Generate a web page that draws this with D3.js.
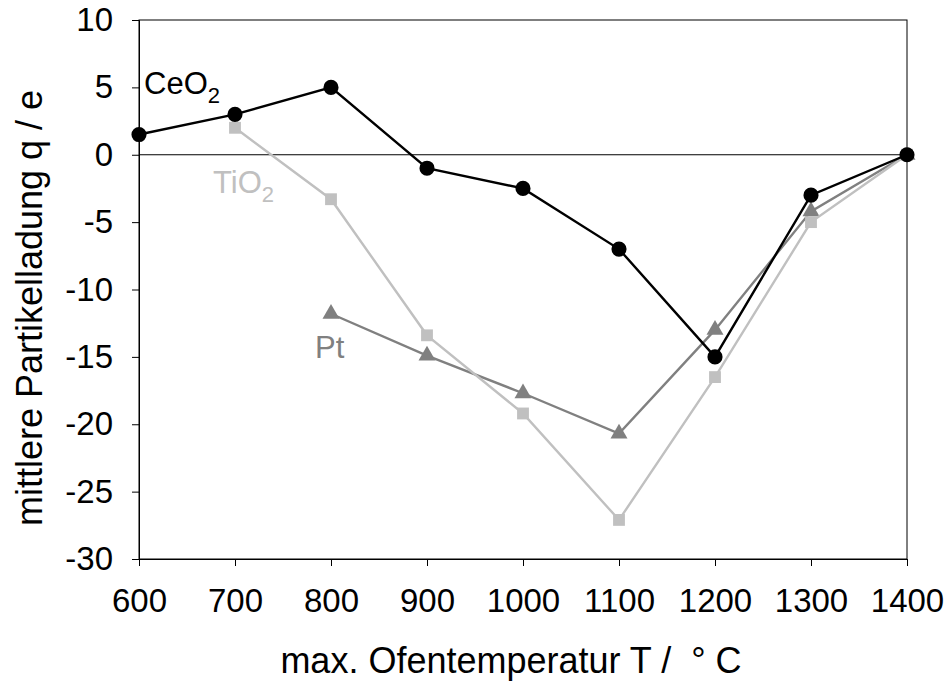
<!DOCTYPE html>
<html>
<head>
<meta charset="utf-8">
<script src="https://cdn.jsdelivr.net/npm/d3@7"></script>
<style>
  body { margin: 0; background: #fff; }
  svg text { font-family: "Liberation Sans", Arial, sans-serif; }
</style>
</head>
<body>
<div id="chart"></div>
<script>
const temps = [600, 700, 800, 900, 1000, 1100, 1200, 1300, 1400];
const ceo2 = [1.5, 3, 5, -1, -2.5, -7, -15, -3, 0];
const tio2 = [null, 2, -3.3, -13.4, -19.2, -27.1, -16.5, -5, 0];
const pt = [null, null, -11.8, -14.9, -17.7, -20.7, -13, -4.2, 0];
const yTicks = [10, 5, 0, -5, -10, -15, -20, -25, -30];

const W = 949, H = 684;
const m = { left: 139, right: 42, top: 20, bottom: 125 };

const svg = d3.select("#chart").append("svg")
    .attr("width", W).attr("height", H);

const x = d3.scaleLinear().domain([600, 1400]).range([m.left, W - m.right]);
const y = d3.scaleLinear().domain([-30, 10]).range([H - m.bottom, m.top]);

// frame
svg.append("rect")
    .attr("x", x(600)).attr("y", y(10))
    .attr("width", x(1400) - x(600)).attr("height", y(-30) - y(10))
    .attr("fill", "none").attr("stroke", "#000").attr("stroke-width", 1);

// zero line
svg.append("line")
    .attr("x1", x(600)).attr("x2", x(1400))
    .attr("y1", y(0)).attr("y2", y(0))
    .attr("stroke", "#000").attr("stroke-width", 1);

// axes
const xAxis = svg.append("g")
    .attr("transform", `translate(0,${y(-30)})`)
    .call(d3.axisBottom(x).tickValues(temps).tickSize(7).tickPadding(23).tickFormat(d3.format("d")));
const yAxis = svg.append("g")
    .attr("transform", `translate(${x(600)},0)`)
    .call(d3.axisLeft(y).tickValues(yTicks).tickSize(7).tickPadding(19).tickFormat(d3.format("d")));

[xAxis, yAxis].forEach(a => {
    a.attr("font-size", null).attr("font-family", null);
    a.select(".domain").attr("stroke", "#000");
    a.selectAll(".tick line").attr("stroke", "#000");
    a.selectAll("text").attr("font-size", 33).attr("fill", "#000");
});
yAxis.selectAll("text").text(d => d < 0 ? "-" + Math.abs(d) : d);

// axis titles
svg.append("text")
    .attr("x", 511).attr("y", 673)
    .attr("text-anchor", "middle").attr("font-size", 36)
    .style("white-space", "pre")
    .text("max. Ofentemperatur T /  \u00B0 C");
svg.append("text")
    .attr("transform", `translate(42,308) rotate(-90)`)
    .attr("text-anchor", "middle").attr("font-size", 36)
    .text("mittlere Partikelladung q / e");

const series = [
    { name: "Pt", values: pt, color: "#808080", shape: d3.symbolTriangle, size: 125 },
    { name: "TiO2", values: tio2, color: "#c0c0c0", shape: d3.symbolSquare, size: 140 },
    { name: "CeO2", values: ceo2, color: "#000000", shape: d3.symbolCircle, size: 180 }
];

const line = d3.line()
    .defined(d => d.v !== null)
    .x(d => x(d.t)).y(d => y(d.v));

series.forEach(s => {
    const pts = temps.map((t, i) => ({ t, v: s.values[i] }));
    svg.append("path")
        .datum(pts)
        .attr("d", line)
        .attr("fill", "none")
        .attr("stroke", s.color)
        .attr("stroke-width", 2.4);
    svg.append("g").selectAll("path")
        .data(pts.filter(d => d.v !== null))
        .join("path")
        .attr("transform", d => `translate(${x(d.t)},${y(d.v)})`)
        .attr("d", d3.symbol().type(s.shape).size(s.size))
        .attr("fill", s.color);
});

// series labels
function label(xp, yp, main, sub, color) {
    const t = svg.append("text").attr("x", xp).attr("y", yp)
        .attr("font-size", 31).attr("fill", color).text(main);
    if (sub) t.append("tspan").attr("dy", 9).attr("font-size", 22).text(sub);
}
label(144, 94, "CeO", "2", "#000");
label(213, 193, "TiO", "2", "#c0c0c0");
label(315, 358, "Pt", null, "#808080");
</script>
</body>
</html>
